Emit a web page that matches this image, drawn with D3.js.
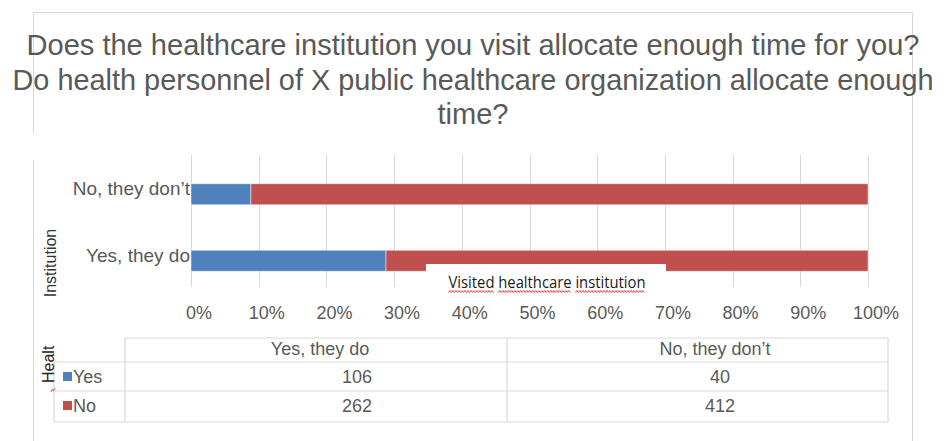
<!DOCTYPE html>
<html>
<head>
<meta charset="utf-8">
<script src="https://cdn.jsdelivr.net/npm/d3@7"></script>
<style>
  html, body { margin: 0; padding: 0; background: #fff; }
  svg { display: block; font-family: "Liberation Sans", Arial, sans-serif; }
</style>
</head>
<body>
<svg id="chart" width="944" height="441"></svg>
<script>
// ---- data ----
const titleLines = [
  "Does the healthcare institution you visit allocate enough time for you?",
  "Do health personnel of X public healthcare organization allocate enough",
  "time?"
];
const categories = ["Yes, they do", "No, they don\u2019t"];   // bottom to top
const seriesNames = ["Yes", "No"];
const yesValues = [106, 40];
const noValues = [262, 412];
const tickValues = [0, 0.1, 0.2, 0.3, 0.4, 0.5, 0.6, 0.7, 0.8, 0.9, 1];
const yAxisTitle = "Institution";
const xAxisTitle = "Visited healthcare institution";
const tableAxisTitle = "Healt";

// ---- styling ----
const colors = { Yes: "#4F81BD", No: "#C0504D" };
const textGray = "#595959";
const lineGray = "#d9d9d9";

const svg = d3.select("#chart");

// frames around the title and the plot
const frame = svg.append("g").attr("fill", "none").attr("stroke", lineGray).attr("stroke-width", 1);
frame.append("path").attr("d", "M33.5,133V12.5H912.5V441");
frame.append("path").attr("d", "M33.5,160V441");

// ---- title (slightly tall, narrow lettering) ----
const titleG = svg.append("g").attr("fill", textGray).attr("font-size", 27.5).attr("text-anchor", "middle");
const titleWidths = [893, 921];
const titleBase = [55, 90, 124];
let squeeze = 1;
titleLines.forEach((t, i) => {
  const el = titleG.append("text")
    .attr("transform", `translate(473,${titleBase[i]}) scale(1,1.09)`)
    .text(t);
  const natural = el.node().getComputedTextLength();
  if (i < 2) {
    el.attr("textLength", titleWidths[i]).attr("lengthAdjust", "spacingAndGlyphs");
    if (i === 0) squeeze = titleWidths[0] / natural;
  } else {
    el.attr("textLength", natural * squeeze).attr("lengthAdjust", "spacingAndGlyphs");
  }
});

// ---- scales ----
const rows = categories.map((c, i) => {
  const total = yesValues[i] + noValues[i];
  return { category: c, Yes: yesValues[i] / total, No: noValues[i] / total };
});
const stacked = d3.stack().keys(seriesNames)(rows);

const x = d3.scaleLinear().domain([0, 1]).range([191, 868]);
const y = d3.scaleBand().domain(categories).range([294, 161])
  .paddingInner(0.684).paddingOuter(0.342);
const gridTop = 155, gridBottom = 287;

// vertical gridlines
svg.append("g").selectAll("line").data(tickValues).join("line")
  .attr("x1", d => Math.round(x(d)) + 0.5).attr("x2", d => Math.round(x(d)) + 0.5)
  .attr("y1", gridTop).attr("y2", gridBottom)
  .attr("stroke", lineGray).attr("stroke-width", 1);

// stacked bars
svg.append("g").selectAll("g").data(stacked).join("g")
  .attr("fill", d => colors[d.key])
  .selectAll("rect").data(d => d).join("rect")
  .attr("x", d => x(d[0]))
  .attr("width", d => x(d[1]) - x(d[0]))
  .attr("y", d => y(d.data.category))
  .attr("height", y.bandwidth())
  .attr("stroke", "#ffffff").attr("stroke-opacity", 0.6).attr("stroke-width", 0.8);

// category labels
svg.append("g").attr("fill", textGray).attr("font-size", 19).attr("text-anchor", "end")
  .selectAll("text").data(categories).join("text")
  .attr("x", 190)
  .attr("y", d => y(d) + y.bandwidth() / 2 + 1)
  .text(d => d);

// percentage tick labels
svg.append("g").attr("fill", textGray).attr("font-size", 18).attr("text-anchor", "middle")
  .selectAll("text").data(tickValues).join("text")
  .attr("x", d => x(d) + 8)
  .attr("y", 319)
  .text(d => d3.format(".0%")(d));

// wavy spell-check underline
function squiggle(g, x0, x1, yy) {
  const pts = [];
  for (let px = x0, k = 0; px <= x1; px += 1.5, k++) pts.push([px, yy + (k % 2 ? -1 : 1)]);
  g.append("path").attr("d", d3.line()(pts))
    .attr("fill", "none").attr("stroke", "#e8403a").attr("stroke-width", 1);
}

// horizontal axis title on a white box
const xTitleG = svg.append("g");
xTitleG.append("rect").attr("x", 426).attr("y", 264).attr("width", 240).attr("height", 29).attr("fill", "#fff");
const xt = xTitleG.append("text")
  .attr("x", 547).attr("y", 288)
  .attr("text-anchor", "middle")
  .attr("font-family", "'Open Sans', sans-serif")
  .attr("font-size", 16)
  .attr("fill", "#1a1a1a")
  .attr("textLength", 197).attr("lengthAdjust", "spacingAndGlyphs")
  .text(xAxisTitle);
{
  const node = xt.node();
  let start = 0;
  xAxisTitle.split(" ").forEach(w => {
    const a = node.getStartPositionOfChar(start).x;
    const b = node.getEndPositionOfChar(start + w.length - 1).x;
    squiggle(xTitleG, a, b, 291.5);
    start += w.length + 1;
  });
}

// vertical axis title
svg.append("text")
  .attr("transform", "translate(56,263) rotate(-90)")
  .attr("text-anchor", "middle")
  .attr("font-size", 16)
  .attr("fill", "#333")
  .text(yAxisTitle);

// ---- data table ----
const table = svg.append("g");
const colEdges = [125, 507, 888];
const rowEdges = [338, 362, 391, 422];
const legendLeft = 54;
const tline = (x1, y1, x2, y2) => table.append("line")
  .attr("x1", x1).attr("y1", y1).attr("x2", x2).attr("y2", y2)
  .attr("stroke", lineGray).attr("stroke-width", 1.2);

tline(colEdges[0], rowEdges[0], colEdges[2], rowEdges[0]);
rowEdges.slice(1).forEach(r => tline(legendLeft, r, colEdges[2], r));
colEdges.forEach(c => tline(c, rowEdges[0], c, rowEdges[3]));
tline(legendLeft, rowEdges[1], legendLeft, rowEdges[3]);

// column headers
const tableCols = categories.slice();
table.append("g").attr("fill", textGray).attr("font-size", 18).attr("text-anchor", "middle")
  .selectAll("text").data(tableCols).join("text")
  .attr("x", (d, i) => [320, 715][i])
  .attr("y", 355)
  .text(d => d);

// series rows
const seriesValues = { Yes: yesValues, No: noValues };
seriesNames.forEach((s, ri) => {
  const rowTop = rowEdges[ri + 1];
  const base = rowTop + 21;
  table.append("rect").attr("x", 63).attr("y", base - 11).attr("width", 9).attr("height", 9)
    .attr("fill", colors[s]);
  table.append("text").attr("x", 73).attr("y", base).attr("font-size", 18).attr("fill", textGray).text(s);
  tableCols.forEach((c, ci) => {
    table.append("text")
      .attr("x", [357, 720][ci]).attr("y", base)
      .attr("text-anchor", "middle")
      .attr("font-size", 18).attr("fill", textGray)
      .text(seriesValues[s][ci]);
  });
});

// truncated axis title beside the table
svg.append("text")
  .attr("transform", "translate(54,383) rotate(-90)")
  .attr("font-size", 16)
  .attr("fill", "#222")
  .text(tableAxisTitle);
svg.append("path").attr("d", "M51,392L52.5,389L53.5,391L55,388")
  .attr("fill", "none").attr("stroke", "#e8403a").attr("stroke-width", 0.9);
</script>
</body>
</html>
